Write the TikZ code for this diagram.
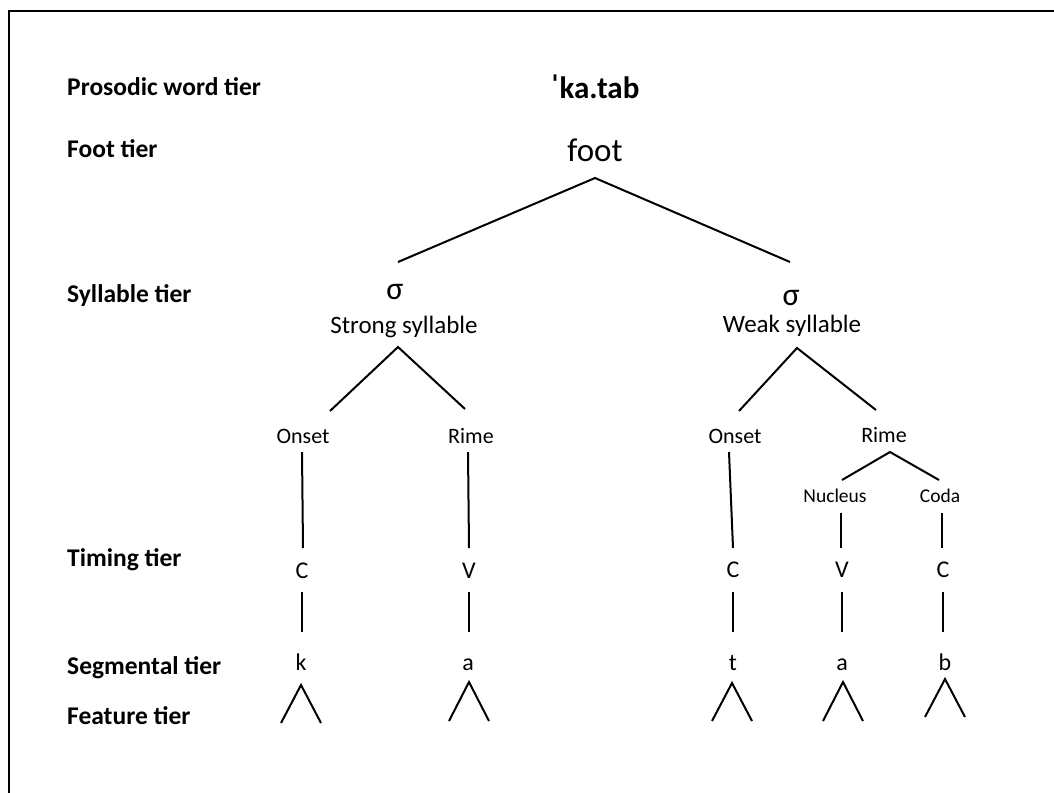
\documentclass[tikz,border=0pt]{standalone}
\usepackage{fontspec}
\setmainfont{Carlito}
\begin{document}
\begin{tikzpicture}[x=1pt,y=-1pt,
  lbl/.style={anchor=base west,inner sep=0pt,font=\fontsize{25.5}{25.5}\selectfont\bfseries},
  txt/.style={anchor=base,inner sep=0pt},
  sz/.style={font=\fontsize{#1}{#1}\selectfont},
  edge/.style={line width=2pt,line cap=butt}]
\useasboundingbox (0,0) rectangle (1054,792);
\begin{scope}
\clip (0,0) rectangle (1054,792);
\draw[line width=2pt] (9,11) rectangle (1070,810);
\end{scope}
% tier labels
\node[lbl] (Lpw) at (67,95) {Prosodic word tier};
\node[lbl] (Lft) at (67,157) {Foot tier};
\node[lbl] (Lsy) at (67,302) {Syllable tier};
\node[lbl] (Ltm) at (67,566) {Timing tier};
\node[lbl] (Lsg) at (67,674) {Segmental tier};
\node[lbl] (Lfe) at (67,724) {Feature tier};
% word and foot
\node[txt,font=\bfseries\fontsize{31}{31}\selectfont] (word) at (595,98) {ˈka.tab};
\node[txt,sz=33] (foot) at (595,161) {foot};
% syllables
\node[txt,sz=32] (sigL) at (395,299) {σ};
\node[txt,sz=32] (sigR) at (791,305) {σ};
\node[txt,sz=25] (strong) at (404,333) {Strong syllable};
\node[txt,sz=25] (weak) at (792,332) {Weak syllable};
% onset/rime
\node[txt,sz=22] (onL) at (303,443) {Onset};
\node[txt,sz=22] (riL) at (471,443) {Rime};
\node[txt,sz=22] (onR) at (735,443) {Onset};
\node[txt,sz=22] (riR) at (884,442) {Rime};
\node[txt,sz=19.5] (nuc) at (835,502) {Nucleus};
\node[txt,sz=19.5] (cod) at (940,502) {Coda};
% timing
\node[txt,sz=24] (t1) at (302,578) {C};
\node[txt,sz=24] (t2) at (469,578) {V};
\node[txt,sz=24] (t3) at (733,577) {C};
\node[txt,sz=24] (t4) at (842,577) {V};
\node[txt,sz=24] (t5) at (943,577) {C};
% segments
\node[txt,sz=24] (s1) at (301,670) {k};
\node[txt,sz=24] (s2) at (468,670) {a};
\node[txt,sz=24] (s3) at (733,670) {t};
\node[txt,sz=24] (s4) at (842,670) {a};
\node[txt,sz=24] (s5) at (945,670) {b};
% connector end points
\coordinate (footA) at (595,178);
\coordinate (sigLtop) at (398,262);
\coordinate (sigRtop) at (790,262);
\coordinate (strA) at (398,347);
\coordinate (onLtop) at (330,411);
\coordinate (riLtop) at (465,409);
\coordinate (weakA) at (797,348);
\coordinate (onRtop) at (739,411);
\coordinate (riRtop) at (876,410);
\coordinate (onLb) at (302,452);
\coordinate (t1top) at (303,548);
\coordinate (riLb) at (468,452);
\coordinate (t2top) at (469,548);
\coordinate (onRb) at (729,452);
\coordinate (t3top) at (733,548);
\coordinate (riRA) at (890,452);
\coordinate (nucTop) at (842,480);
\coordinate (codTop) at (939,480);
\coordinate (nucB) at (841,513);
\coordinate (t4top) at (841,548);
\coordinate (codB) at (942,513);
\coordinate (t5top) at (942,548);
\draw[edge] (sigLtop) -- (footA) -- (sigRtop);
\draw[edge] (onLtop) -- (strA) -- (riLtop);
\draw[edge] (onRtop) -- (weakA) -- (riRtop);
\draw[edge] (onLb) -- (t1top);
\draw[edge] (riLb) -- (t2top);
\draw[edge] (onRb) -- (t3top);
\draw[edge] (nucTop) -- (riRA) -- (codTop);
\draw[edge] (nucB) -- (t4top);
\draw[edge] (codB) -- (t5top);
% timing to segment
\foreach \n/\x in {t1/302,t2/469,t3/733,t4/842,t5/943}{
  \coordinate (\n a) at (\x,592);
  \coordinate (\n b) at (\x,632);
  \draw[edge] (\n a) -- (\n b);
}
% features
\foreach \n/\x/\y/\yy in {s1/301/685/723,s2/469/682/721,s3/732/683/721,s4/843/682/721,s5/945/679/717}{
  \coordinate (\n f) at (\x,\y);
  \coordinate (\n l) at (\x-20,\yy);
  \coordinate (\n r) at (\x+20,\yy);
  \draw[edge,line join=miter] (\n l) -- (\n f) -- (\n r);
}
\end{tikzpicture}
\end{document}
